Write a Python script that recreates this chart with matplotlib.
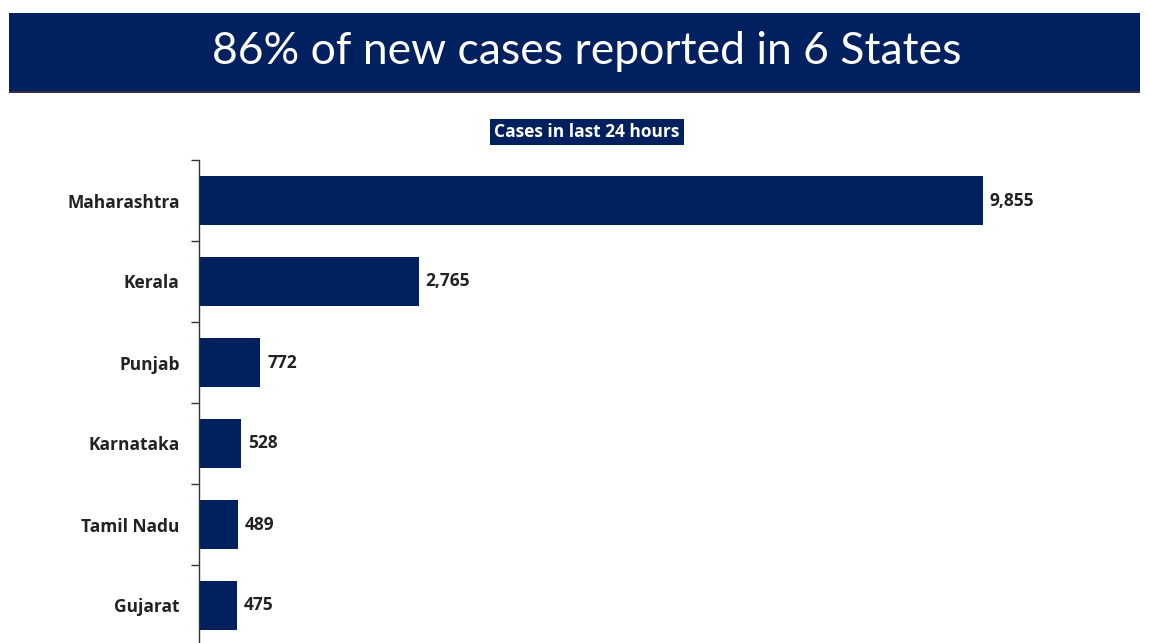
import matplotlib
matplotlib.use("Agg")
import matplotlib.pyplot as plt
from matplotlib.patches import Rectangle

states = ["Maharashtra", "Kerala", "Punjab", "Karnataka", "Tamil Nadu", "Gujarat"]
cases = [9855, 2765, 772, 528, 489, 475]
title = "86% of new cases reported in 6 States"
subtitle = "Cases in last 24 hours"

NAVY = "#00205f"
W, H = 1150, 643
fig = plt.figure(figsize=(W / 100, H / 100), dpi=100)
fig.patch.set_facecolor("white")

# Banner
fig.patches.append(Rectangle((9 / W, 1 - 91 / H), (1140 - 9) / W, (91 - 13) / H,
                             transform=fig.transFigure, facecolor=NAVY, edgecolor="none", zorder=0))
fig.patches.append(Rectangle((9 / W, 1 - 93 / H), (1140 - 9) / W, 2 / H,
                             transform=fig.transFigure, facecolor="#3a2f45", edgecolor="none", zorder=0))
fig.text(587 / W, 1 - 51 / H, title, ha="center", va="center", color="white",
         fontsize=32, family="Lato")

fig.text(587 / W, 1 - 132 / H, subtitle, ha="center", va="center", color="white",
         fontsize=12.5, fontweight="bold", family="Open Sans",
         bbox=dict(boxstyle="square,pad=0.25", facecolor=NAVY, edgecolor="none"))

# Axes: left at x=199, top at y=160, bottom at y=646
ax_left, ax_right = 199, 1099
ax_top, ax_bottom = 160, 646
ax = fig.add_axes([ax_left / W, 1 - ax_bottom / H, (ax_right - ax_left) / W, (ax_bottom - ax_top) / H])
px_per_unit = (983 - 199) / cases[0]
ax.set_xlim(0, (ax_right - ax_left) / px_per_unit)
ax.set_ylim(len(states) - 0.5, -0.5)

y = list(range(len(states)))
ax.barh(y, cases, height=0.6, color=NAVY, edgecolor="none")
for yi, v in zip(y, cases):
    ax.text(v + 85, yi, f"{v:,}", va="center", ha="left", fontsize=12.5,
            fontweight="bold", family="Open Sans", color="#222222")

for s in ["top", "right", "bottom"]:
    ax.spines[s].set_visible(False)
ax.spines["left"].set_color("#333333")
ax.spines["left"].set_linewidth(1.0)
ax.set_xticks([])
ax.set_yticks(y)
ax.set_yticklabels(states, fontsize=12.5, fontweight="bold", family="Open Sans", color="#222222")
ax.tick_params(axis="y", length=0, pad=14)
# minor ticks at category boundaries
ax.set_yticks([i - 0.5 for i in range(len(states) + 1)], minor=True)
ax.tick_params(axis="y", which="minor", length=6, width=1, color="#333333", direction="out")

fig.savefig("out.png", dpi=100, facecolor="white")
